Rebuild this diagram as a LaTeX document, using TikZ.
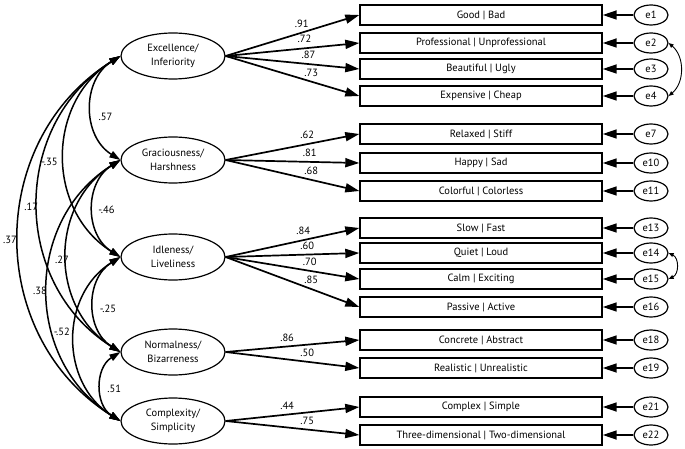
\documentclass[tikz,border=0pt]{standalone}
\usepackage{fontspec}
\setmainfont{PT Sans}
\usetikzlibrary{arrows.meta,shapes.geometric}
\begin{document}
\begin{tikzpicture}[x=1pt,y=1pt,
  font=\fontsize{10.5}{13.5}\selectfont,
  factor/.style={ellipse, draw, line width=1.2pt, minimum width=104pt, minimum height=46pt, inner xsep=-8pt, inner ysep=0pt, align=center},
  obs/.style={rectangle, draw, line width=1.4pt, minimum width=242pt, minimum height=20pt, inner sep=0pt},
  err/.style={ellipse, draw, line width=1.2pt, minimum width=34pt, minimum height=20pt, inner sep=0pt},
  load/.style={line width=1.7pt, -{Triangle[length=14pt,width=9pt]}},
  cov/.style={line width=1.5pt, {Triangle[length=11pt,width=7pt]}-{Triangle[length=11pt,width=7pt]}, bend right=58, looseness=1.12},
  ecov/.style={line width=0.9pt, {Triangle[length=5pt,width=4pt]}-{Triangle[length=5pt,width=4pt]}},
  lab/.style={inner sep=1pt}
]
\useasboundingbox (0,0) rectangle (685,-449);

% factors
\node[factor] (F1) at (173,-56)  {Excellence/\\Inferiority};
\node[factor] (F2) at (173,-160) {Graciousness/\\Harshness};
\node[factor] (F3) at (173,-257) {Idleness/\\Liveliness};
\node[factor] (F4) at (173,-352) {Normalness/\\Bizarreness};
\node[factor] (F5) at (173,-421) {Complexity/\\Simplicity};

% observed
\node[obs] (b1)  at (481,-15)  {Good | Bad};
\node[obs] (b2)  at (481,-43)  {Professional | Unprofessional};
\node[obs] (b3)  at (481,-69)  {Beautiful | Ugly};
\node[obs] (b4)  at (481,-96)  {Expensive | Cheap};
\node[obs] (b7)  at (481,-134) {Relaxed | Stiff};
\node[obs] (b10) at (481,-163) {Happy | Sad};
\node[obs] (b11) at (481,-191) {Colorful | Colorless};
\node[obs] (b13) at (481,-228) {Slow | Fast};
\node[obs] (b14) at (481,-253) {Quiet | Loud};
\node[obs] (b15) at (481,-279) {Calm | Exciting};
\node[obs] (b16) at (481,-307) {Passive | Active};
\node[obs] (b18) at (481,-340) {Concrete | Abstract};
\node[obs] (b19) at (481,-368) {Realistic | Unrealistic};
\node[obs] (b21) at (481,-407) {Complex | Simple};
\node[obs] (b22) at (481,-435) {Three-dimensional | Two-dimensional};

% errors
\node[err] (e1)  at (651,-15)  {e1};
\node[err] (e2)  at (651,-43)  {e2};
\node[err] (e3)  at (651,-69)  {e3};
\node[err] (e4)  at (651,-96)  {e4};
\node[err] (e7)  at (651,-134) {e7};
\node[err] (e10) at (651,-163) {e10};
\node[err] (e11) at (651,-191) {e11};
\node[err] (e13) at (651,-228) {e13};
\node[err] (e14) at (651,-253) {e14};
\node[err] (e15) at (651,-279) {e15};
\node[err] (e16) at (651,-307) {e16};
\node[err] (e18) at (651,-340) {e18};
\node[err] (e19) at (651,-368) {e19};
\node[err] (e21) at (651,-407) {e21};
\node[err] (e22) at (651,-435) {e22};

% error arrows
\foreach \i in {1,2,3,4,7,10,11,13,14,15,16,18,19,21,22}
  \draw[load] (e\i) -- (b\i);

% loadings
\draw[load] (F1.east) -- node[lab,pos=0.57,above=3.5pt]{.91} (b1.west);
\draw[load] (F1.east) -- node[lab,pos=0.59,above=3.5pt]{.72} (b2.west);
\draw[load] (F1.east) -- node[lab,pos=0.62,above=3.5pt]{.87} (b3.west);
\draw[load] (F1.east) -- node[lab,pos=0.64,above=3.5pt]{.73} (b4.west);
\draw[load] (F2.east) -- node[lab,pos=0.61,above=3.5pt]{.62} (b7.west);
\draw[load] (F2.east) -- node[lab,pos=0.63,above=3.5pt]{.81} (b10.west);
\draw[load] (F2.east) -- node[lab,pos=0.64,above=3.5pt]{.68} (b11.west);
\draw[load] (F3.east) -- node[lab,pos=0.58,above=3.5pt]{.84} (b13.west);
\draw[load] (F3.east) -- node[lab,pos=0.61,above=3.5pt]{.60} (b14.west);
\draw[load] (F3.east) -- node[lab,pos=0.63,above=3.5pt]{.70} (b15.west);
\draw[load] (F3.east) -- node[lab,pos=0.64,above=3.5pt]{.85} (b16.west);
\draw[load] (F4.east) -- node[lab,pos=0.46,above=3.5pt]{.86} (b18.west);
\draw[load] (F4.east) -- node[lab,pos=0.61,above=3.5pt]{.50} (b19.west);
\draw[load] (F5.east) -- node[lab,pos=0.46,above=3.5pt]{.44} (b21.west);
\draw[load] (F5.east) -- node[lab,pos=0.61,above=3.5pt]{.75} (b22.west);

% factor covariances
\draw[cov] (F1.west) to node[lab,xshift=14pt,yshift=-8.5pt]{.57} (F2.west);
\draw[cov] (F1.west) to node[lab,xshift=-15pt,yshift=-5pt]{-.35} (F3.west);
\draw[cov] (F1.west) to node[lab,xshift=-7pt,yshift=-2.5pt]{.17} (F4.west);
\draw[cov] (F1.west) to node[lab,xshift=-9pt,yshift=-1pt]{.37} (F5.west);
\draw[cov] (F2.west) to node[lab,xshift=13pt,yshift=-1.5pt]{-.46} (F3.west);
\draw[cov] (F2.west) to node[lab,xshift=-5pt,yshift=-4pt]{.27} (F4.west);
\draw[cov] (F2.west) to node[lab,xshift=-8pt,yshift=0pt]{.38} (F5.west);
\draw[cov] (F3.west) to node[lab,xshift=14pt,yshift=-4pt]{-.25} (F4.west);
\draw[cov] (F3.west) to node[lab,xshift=-13pt,yshift=7pt]{-.52} (F5.west);
\draw[cov] (F4.west) to node[lab,xshift=13pt,yshift=-2pt]{.51} (F5.west);

% error covariances
\draw[ecov] (e2.east) to[bend left=50, looseness=1.02] (e4.east);
\draw[ecov] (e14.east) to[bend left=65, looseness=1.15] (e15.east);
\end{tikzpicture}
\end{document}
